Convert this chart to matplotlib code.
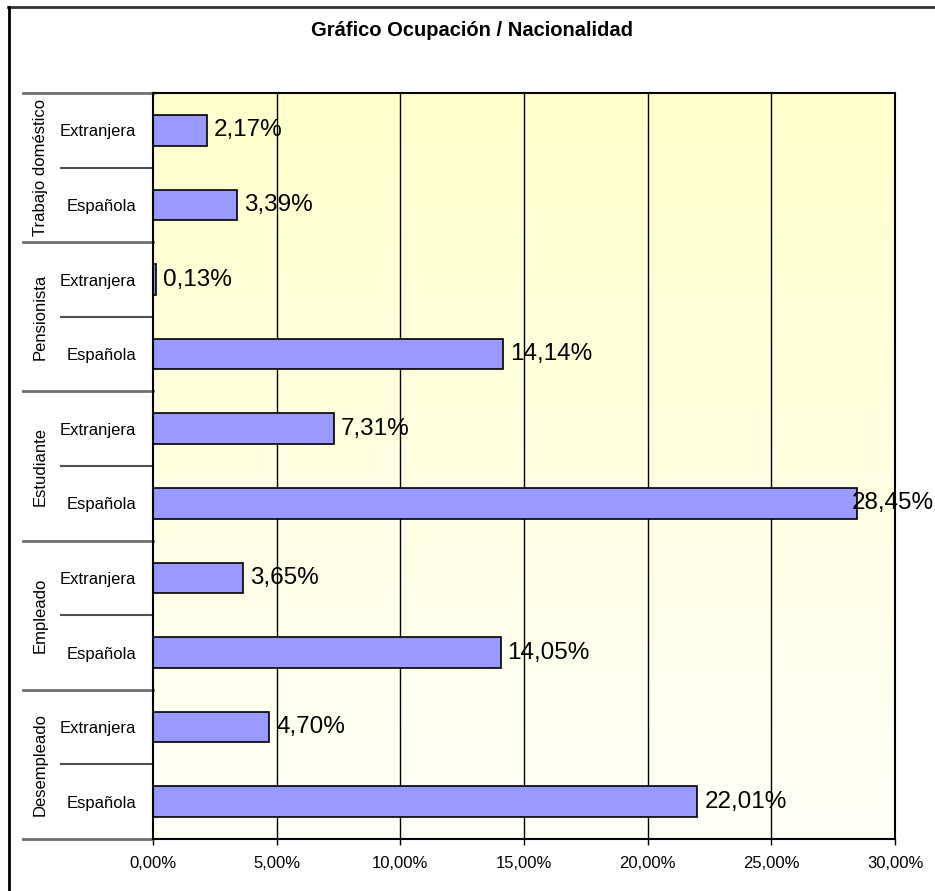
import numpy as np
import matplotlib
matplotlib.use('Agg')
import matplotlib.pyplot as plt
import matplotlib.transforms as mtransforms
from matplotlib.lines import Line2D
from matplotlib.ticker import FuncFormatter

plt.rcParams['font.family'] = ['Liberation Sans', 'DejaVu Sans']

# data (bottom to top)
groups = ['Desempleado', 'Empleado', 'Estudiante', 'Pensionista', 'Trabajo doméstico']
nationalities = ['Española', 'Extranjera']
values = [22.01, 4.70,    # Desempleado
          14.05, 3.65,    # Empleado
          28.45, 7.31,    # Estudiante
          14.14, 0.13,    # Pensionista
          3.39, 2.17]     # Trabajo doméstico
xticks = [0, 5, 10, 15, 20, 25, 30]

fig = plt.figure(figsize=(9.35, 8.91), dpi=100)
ax = fig.add_axes([153 / 935, 1 - 839 / 891, 742 / 935, 746 / 891])

n = len(values)
ypos = np.arange(n)

# gradient background
grad = np.linspace(0, 1, 256).reshape(-1, 1)
top = np.array([1.0, 1.0, 0.80])
bot = np.array([1.0, 1.0, 0.975])
img = bot + (top - bot) * grad
ax.imshow(img[:, None, :].repeat(2, axis=1), extent=[0, 30, -0.5, n - 0.5],
          aspect='auto', origin='lower', zorder=0)

for x in xticks[1:-1]:
    ax.axvline(x, color='black', lw=1, zorder=1)

ax.barh(ypos, values, height=0.41, color='#9999FF', edgecolor='black', lw=1.2, zorder=2)

ax.set_xlim(0, 30)
ax.set_ylim(-0.5, n - 0.5)

labels = []
for y, v in zip(ypos, values):
    t = ax.annotate(f'{v:.2f}%'.replace('.', ','), (v, y), xytext=(5, 0),
                    textcoords='offset points', va='center', ha='left',
                    fontsize=17.5, color='black', zorder=5, annotation_clip=False)
    labels.append(t)

ax.set_xticks(xticks)
ax.xaxis.set_major_formatter(FuncFormatter(lambda v, p: f'{v:.2f}%'.replace('.', ',')))
ax.tick_params(axis='x', length=4, width=1, pad=8, labelsize=12)
ax.set_yticks(ypos)
ax.set_yticklabels(nationalities * len(groups), fontsize=12)
ax.tick_params(axis='y', length=0, pad=12)
for s in ax.spines.values():
    s.set_linewidth(1.5)

# labels that would run past the figure edge are pulled back inside (as Excel does)
fig.canvas.draw()
renderer = fig.canvas.get_renderer()
fig_w = fig.bbox.width
for t in labels:
    bb = t.get_window_extent(renderer)
    if bb.x1 > fig_w:
        shift = (bb.x1 - fig_w + 1) * 72 / fig.dpi
        x0, y0 = t.xyann
        t.xyann = (x0 - shift, y0)

# category separators
trans = mtransforms.blended_transform_factory(ax.transAxes, ax.transData)
for i in range(len(groups) + 1):
    yb = 2 * i - 0.5
    ax.add_line(Line2D([-0.175, 0], [yb, yb], transform=trans, color='#707070',
                       lw=2, clip_on=False))
for i in range(len(groups)):
    ym = 2 * i + 0.5
    ax.add_line(Line2D([-0.124, 0], [ym, ym], transform=trans, color='#505050',
                       lw=1.5, clip_on=False))
    ax.text(-0.152, 2 * i + 0.5, groups[i], transform=trans, rotation=90,
            ha='center', va='center', fontsize=12)

fig.text(472 / 935, 1 - 30 / 891, 'Gráfico Ocupación / Nacionalidad',
         ha='center', va='center', fontsize=14.5, fontweight='bold')

# outer border (top and left visible)
fig.add_artist(Line2D([8 / 935, 1], [1 - 7 / 891] * 2, transform=fig.transFigure,
                      color='#333333', lw=2))
fig.add_artist(Line2D([8.5 / 935] * 2, [0, 1 - 7 / 891], transform=fig.transFigure,
                      color='black', lw=2))

fig.savefig('out.png', dpi=100)
